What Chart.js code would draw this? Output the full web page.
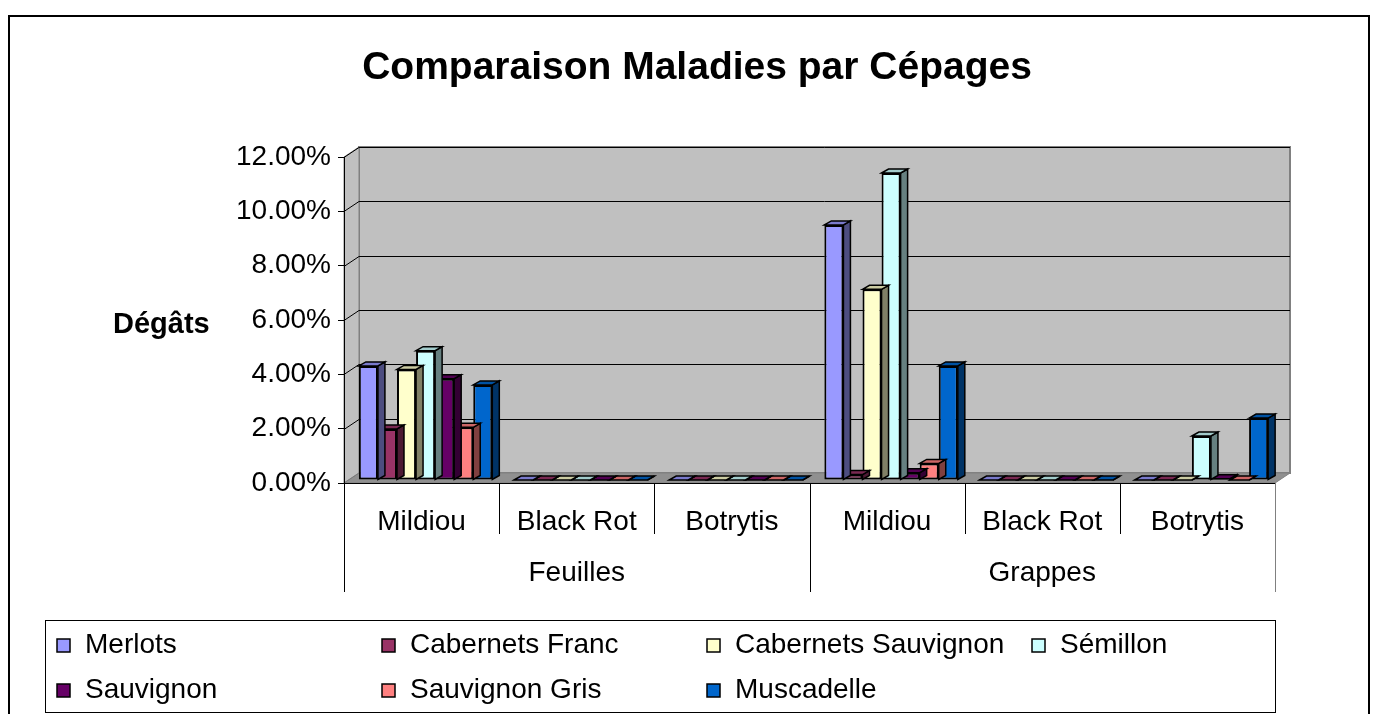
<!DOCTYPE html>
<html>
<head>
<meta charset="utf-8">
<script src="https://cdn.jsdelivr.net/npm/chart.js@4"></script>
<style>
  body { margin: 0; background: #fff; }
  canvas { display: block; }
</style>
</head>
<body>
<canvas id="chart" width="1373" height="714"></canvas>
<script>
// categories (inner level) and groups (outer level)
let categories = ["Mildiou", "Black Rot", "Botrytis", "Mildiou", "Black Rot", "Botrytis"];
let groups = ["Feuilles", "Grappes"];

// damage in % per grape variety
let merlots = [4.2, 0, 0, 9.39, 0, 0];
let cabernetsFranc = [1.88, 0, 0, 0.2, 0, 0];
let cabernetsSauvignon = [4.07, 0, 0, 7.02, 0, 0];
let semillon = [4.76, 0, 0, 11.3, 0, 1.62];
let sauvignon = [3.73, 0, 0, 0.27, 0, 0.05];
let sauvignonGris = [1.94, 0, 0, 0.61, 0, 0];
let muscadelle = [3.5, 0, 0, 4.2, 0, 2.28];

let seriesNames = ["Merlots", "Cabernets Franc", "Cabernets Sauvignon", "Sémillon", "Sauvignon", "Sauvignon Gris", "Muscadelle"];
let seriesValues = [merlots, cabernetsFranc, cabernetsSauvignon, semillon, sauvignon, sauvignonGris, muscadelle];
let colorHex = ["#9999FF", "#993366", "#FFFFCC", "#CCFFFF", "#660066", "#FF8080", "#0066CC"];

let FONT = "'Liberation Sans', Arial, sans-serif";
let WALL_DX = 15, WALL_DY = -10;   // depth of the back wall
let BAR_DX = 7, BAR_DY = -4;       // depth of each bar
let BAR_SHIFT_X = 4, BAR_SHIFT_Y = -3;

function shade(hex, f) {
  let n = parseInt(hex.slice(1), 16);
  let r = Math.round(((n >> 16) & 255) * f);
  let g = Math.round(((n >> 8) & 255) * f);
  let b = Math.round((n & 255) * f);
  return "rgb(" + r + "," + g + "," + b + ")";
}

function poly(ctx, pts, fill, stroke, lw) {
  ctx.beginPath();
  ctx.moveTo(pts[0][0], pts[0][1]);
  for (let i = 1; i < pts.length; i++) ctx.lineTo(pts[i][0], pts[i][1]);
  ctx.closePath();
  if (fill) { ctx.fillStyle = fill; ctx.fill(); }
  if (stroke) { ctx.strokeStyle = stroke; ctx.lineWidth = lw || 1; ctx.stroke(); }
}

// grey walls, floor and gridlines drawn behind the axes
let walls3d = {
  id: "walls3d",
  beforeDraw(chart) {
    let ctx = chart.ctx;
    let a = chart.chartArea;
    let y = chart.scales.y;
    ctx.save();
    ctx.fillStyle = "#fff";
    ctx.fillRect(0, 0, chart.width, chart.height);
    // back wall
    poly(ctx, [[a.left + WALL_DX, a.top + WALL_DY], [a.right + WALL_DX, a.top + WALL_DY],
      [a.right + WALL_DX, a.bottom + WALL_DY], [a.left + WALL_DX, a.bottom + WALL_DY]], "#C0C0C0", "#808080", 2);
    // side wall
    poly(ctx, [[a.left, a.top], [a.left + WALL_DX, a.top + WALL_DY],
      [a.left + WALL_DX, a.bottom + WALL_DY], [a.left, a.bottom]], "#C0C0C0", "#808080", 1);
    // gridlines
    ctx.strokeStyle = "#000";
    ctx.lineWidth = 1;
    y.ticks.forEach((t) => {
      let py = Math.round(y.getPixelForValue(t.value)) + 0.5;
      ctx.beginPath();
      ctx.moveTo(a.left, py);
      ctx.lineTo(a.left + WALL_DX, py + WALL_DY);
      if (t.value > 0) ctx.lineTo(a.right + WALL_DX, py + WALL_DY);
      ctx.stroke();
    });
    // floor
    poly(ctx, [[a.left, a.bottom], [a.left + WALL_DX, a.bottom + WALL_DY],
      [a.right + WALL_DX, a.bottom + WALL_DY], [a.right, a.bottom]], "#909090", "#808080", 1);
    ctx.restore();
  },
  beforeDatasetsDraw(chart) {
    chart.ctx.save();
    chart.ctx.translate(BAR_SHIFT_X, BAR_SHIFT_Y);
  },
  afterDatasetDraw(chart, args) {
    let ctx = chart.ctx;
    let color = chart.data.datasets[args.index].backgroundColor;
    args.meta.data.forEach((bar) => {
      let p = bar.getProps(["x", "y", "base", "width"], true);
      let l = p.x - p.width / 2, r = p.x + p.width / 2;
      let top = Math.min(p.y, p.base), bot = Math.max(p.y, p.base);
      poly(ctx, [[r, top], [r + BAR_DX, top + BAR_DY], [r + BAR_DX, bot + BAR_DY], [r, bot]], shade(color, 0.5), "#000", 1.5);
      poly(ctx, [[l, top], [l + BAR_DX, top + BAR_DY], [r + BAR_DX, top + BAR_DY], [r, top]], shade(color, 0.8), "#000", 1.5);
    });
  },
  afterDatasetsDraw(chart) {
    chart.ctx.restore();
  },
};

// title, axis label, two-level category separators, legend and frame
let decorations = {
  id: "decorations",
  afterDraw(chart) {
    let ctx = chart.ctx;
    let a = chart.chartArea;
    let x = chart.scales.x;
    ctx.save();
    ctx.fillStyle = "#000";
    ctx.textBaseline = "middle";
    ctx.textAlign = "center";
    ctx.font = "bold 39px " + FONT;
    ctx.fillText("Comparaison Maladies par Cépages", 697, 68);
    ctx.textAlign = "left";
    ctx.font = "bold 29px " + FONT;
    ctx.fillText("Dégâts", 113, 325);

    // category separators
    let step = (a.right - a.left) / categories.length;
    ctx.lineWidth = 1;
    for (let i = 0; i <= categories.length; i++) {
      let px = Math.round(x.getPixelForValue(i) - step / 2) + 0.5;
      let isGroupEdge = i % (categories.length / groups.length) === 0;
      ctx.strokeStyle = i === categories.length ? "#808080" : "#000";
      ctx.beginPath();
      ctx.moveTo(px, a.bottom);
      ctx.lineTo(px, isGroupEdge ? 592 : 534);
      ctx.stroke();
    }
    ctx.textAlign = "center";
    ctx.font = "28px " + FONT;
    let per = categories.length / groups.length;
    groups.forEach((g, gi) => {
      let cx = (x.getPixelForValue(gi * per) + x.getPixelForValue(gi * per + per - 1)) / 2;
      ctx.fillText(g, cx, 573);
    });

    // legend
    ctx.strokeStyle = "#000";
    ctx.lineWidth = 1;
    ctx.strokeRect(45.5, 620.5, 1230, 92);
    ctx.textAlign = "left";
    chart.data.datasets.forEach((ds, i) => {
      let col = i % 4, row = Math.floor(i / 4);
      let lx = 57 + col * 325, ly = 645 + row * 45;
      ctx.fillStyle = ds.backgroundColor;
      ctx.fillRect(lx, ly - 6, 13, 13);
      ctx.lineWidth = 1.5;
      ctx.strokeRect(lx, ly - 6, 13, 13);
      ctx.fillStyle = "#000";
      ctx.fillText(ds.label, lx + 28, ly);
    });

    // outer frame
    ctx.lineWidth = 2;
    ctx.strokeRect(9, 16, 1360, 720);
    ctx.restore();
  },
};

let ctx = document.getElementById("chart").getContext("2d");

let myChart = new Chart(ctx, {
  type: "bar",
  data: {
    labels: categories,
    datasets: seriesNames.map((name, i) => ({
      label: name,
      data: seriesValues[i],
      backgroundColor: colorHex[i],
      borderColor: "#000",
      borderWidth: 2,
      borderSkipped: false,
      categoryPercentage: 0.86,
      barPercentage: 1.0,
    })),
  },
  options: {
    responsive: false,
    animation: false,
    events: [],
    layout: {
      padding: { left: 0, top: 157, right: 98, bottom: 0 },
    },
    plugins: {
      legend: { display: false },
      title: { display: false },
      tooltip: { enabled: false },
    },
    scales: {
      x: {
        grid: { display: false },
        border: { display: true, color: "#000", width: 1 },
        ticks: {
          color: "#000",
          font: { family: FONT, size: 28 },
          padding: 14,
          maxRotation: 0,
          autoSkip: false,
        },
        afterFit: (scale) => { scale.height = 231; },
      },
      y: {
        min: 0,
        max: 12,
        grid: { display: true, drawOnChartArea: false, drawTicks: true, tickLength: 6, color: "#000" },
        border: { display: true, color: "#000", width: 1 },
        ticks: {
          stepSize: 2,
          color: "#000",
          padding: 7,
          font: { family: FONT, size: 28 },
          callback: (value) => value.toFixed(2) + "%",
        },
        afterFit: (scale) => { scale.width = 344; },
      },
    },
  },
  plugins: [walls3d, decorations],
});
</script>
</body>
</html>
